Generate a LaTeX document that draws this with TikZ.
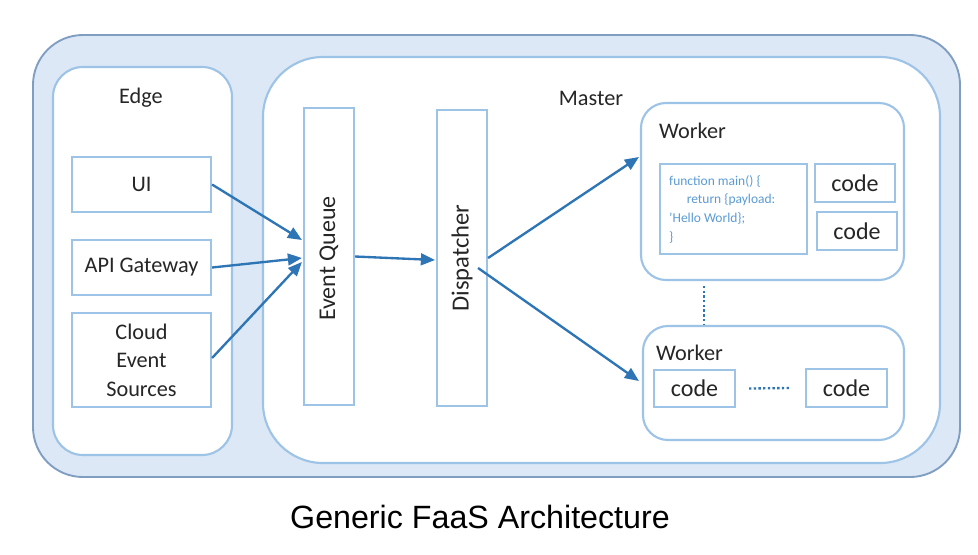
\documentclass[tikz,border=0pt]{standalone}
\usepackage{fontspec}
\setmainfont{Carlito}
\newfontfamily\captionfont{Liberation Sans}
\usepackage{tikz}
\usetikzlibrary{arrows.meta,calc}

\definecolor{outerfill}{RGB}{220,232,245}
\definecolor{outerline}{RGB}{128,158,194}
\definecolor{boxline}{RGB}{157,195,230}
\definecolor{flowblue}{RGB}{46,117,182}
\definecolor{codeblue}{RGB}{91,155,213}
\definecolor{labelgray}{RGB}{38,38,38}

\begin{document}
\begin{tikzpicture}[x=0.03cm,y=-0.03cm]
    % `region' is used for the Edge and Master areas.
    % `block' is used for the plain boxes, `worker' for the worker areas.
    % `flow' is used for the arrows, `dotline' for the dotted links.
    \tikzstyle{outer} = [draw=outerline,fill=outerfill,line width=1.6pt,rounded corners=1.5cm]
    \tikzstyle{region} = [draw=boxline,fill=white,line width=1.8pt]
    \tikzstyle{block} = [draw=boxline,fill=white,line width=1.8pt,text=labelgray,
                         inner sep=0pt,font=\fontsize{19}{22}\selectfont]
    \tikzstyle{codebox} = [block,font=\fontsize{20.5}{23}\selectfont]
    \tikzstyle{worker} = [region,rounded corners=0.75cm]
    \tikzstyle{label} = [text=labelgray,font=\fontsize{19}{22}\selectfont,inner sep=0pt]
    \tikzstyle{flow} = [draw=flowblue,line width=2pt,-{Triangle[length=12pt,width=10pt]}]
    \tikzstyle{dotline} = [draw=flowblue,line width=2pt,dash pattern=on 2pt off 2pt]
    %
    \useasboundingbox (0,0) rectangle (978,554);
    \node[outer,minimum width=27.81cm,minimum height=13.26cm] (faas) at (496.5,256) {};
    \node[region,rounded corners=0.9cm,minimum width=5.37cm,minimum height=11.64cm] (edge) at (142.5,261) {};
    \node[region,rounded corners=1.8cm,minimum width=20.31cm,minimum height=12.18cm] (master) at (601.5,260) {};
    \node[label] (edgelbl) at (141,98) {Edge};
    \node[label] (masterlbl) at (591,98) {Master};
    %
    % Event sources.
    \node[block,minimum width=4.17cm,minimum height=1.65cm] (ui) at (141.5,184.5) {UI};
    \node[block,minimum width=4.17cm,minimum height=1.65cm] (api) at (141.5,267.5) {API Gateway};
    \node[block,minimum width=4.17cm,minimum height=2.82cm,align=center,
          font=\fontsize{19}{24.2}\selectfont] (cloud) at (141.5,360) {Cloud\\Event\\Sources};
    %
    % Queue and dispatcher.
    \node[block,minimum width=1.5cm,minimum height=8.91cm] (queue) at (329,256.5) {};
    \node[label,rotate=90,font=\fontsize{20.5}{23}\selectfont] (queuelbl) at ($(queue.center)+(0,2)$) {Event Queue};
    \node[block,minimum width=1.5cm,minimum height=8.88cm] (disp) at (462,258) {};
    \node[label,rotate=90,font=\fontsize{21}{24}\selectfont] (displbl) at (disp.center) {Dispatcher};
    %
    % Workers.
    \node[worker,minimum width=7.89cm,minimum height=5.31cm] (workA) at (772.5,191.5) {};
    \node[label,anchor=west] (workAlbl) at (659,131) {Worker};
    \node[block,minimum width=4.41cm,minimum height=2.7cm] (func) at (733.5,209) {};
    \node[anchor=north west,align=left,text=codeblue,inner sep=0pt,
          font=\fontsize{11.5}{16}\selectfont] (funclbl) at (669,175)
          {function main() \{\\\hspace*{1.3em}return \{payload:\\'Hello World\};\\\}};
    \node[codebox,minimum width=2.4cm,minimum height=1.14cm] (codeA) at (855,183) {code};
    \node[codebox,minimum width=2.4cm,minimum height=1.14cm] (codeB) at (857,231) {code};
    %
    \node[worker,minimum width=7.83cm,minimum height=3.42cm] (workB) at (773.5,383) {};
    \node[label,anchor=west] (workBlbl) at (656,353) {Worker};
    \node[codebox,minimum width=2.43cm,minimum height=1.11cm] (codeC) at (694.5,388.5) {code};
    \node[codebox,minimum width=2.43cm,minimum height=1.14cm] (codeD) at (846.5,388) {code};
    %
    % Arrows and dotted links.
    \draw[flow] (ui.east) -- ($(queue.west)+(-1,-16.5)$);
    \draw[flow] (api.east) -- ($(queue.west)+(-1,1.5)$);
    \draw[flow] ($(cloud.east)+(0,-2)$) -- ($(queue.west)+(-1,5.5)$);
    \draw[flow] (queue.east) -- ($(disp.west)+(-1,2)$);
    \draw[flow] (disp.east) -- ($(workA.west)+(-1,-34.5)$);
    \draw[flow] ($(disp.east)+(-10,10)$) -- ($(workB.west)+(-3,-2)$);
    \draw[dotline] ($(workA.south west)+(64,5)$) -- ($(workB.north west)+(62,-1)$);
    \draw[dotline] ($(codeC.east)+(13,0)$) -- ($(codeD.west)+(-16,0)$);
    %
    \node[font=\captionfont\fontsize{27.5}{32}\selectfont,inner sep=0pt] (caption) at (480,517) {Generic FaaS Architecture};
\end{tikzpicture}
\end{document}
